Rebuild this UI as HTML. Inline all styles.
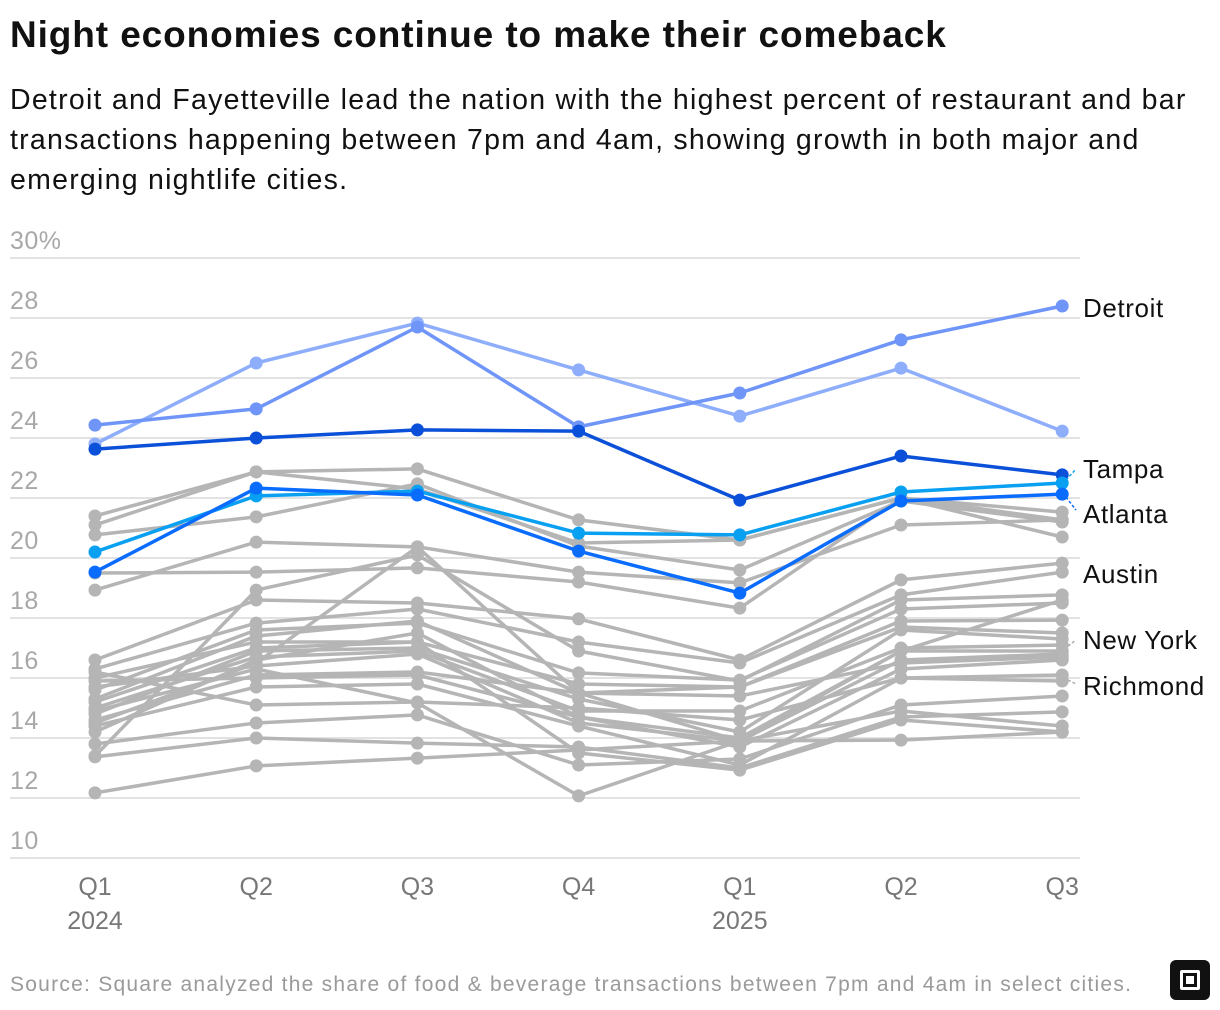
<!DOCTYPE html>
<html><head><meta charset="utf-8">
<style>
body{margin:0;background:#fff;width:1220px;height:1010px;overflow:hidden;font-family:"Liberation Sans",sans-serif;}
h1{position:absolute;left:10px;top:14px;margin:0;font-size:37px;font-weight:bold;letter-spacing:0.9px;color:#111;white-space:nowrap;}
.sub{position:absolute;left:10px;top:80px;width:1210px;font-size:28.5px;line-height:40px;letter-spacing:1.25px;color:#111;margin:0;}
.src{position:absolute;left:10px;top:973px;font-size:21px;letter-spacing:1.25px;color:#9a9a9a;white-space:nowrap;}
svg{position:absolute;left:0;top:0;}
</style></head><body>
<h1>Night economies continue to make their comeback</h1>
<p class="sub">Detroit and Fayetteville lead the nation with the highest percent of restaurant and bar transactions happening between 7pm and 4am, showing growth in both major and emerging nightlife cities.</p>
<svg id="chart" width="1220" height="1010"></svg>
<div class="src">Source: Square analyzed the share of food &amp; beverage transactions between 7pm and 4am in select cities.</div>
<div style="position:absolute;left:1170px;top:960px;width:40px;height:40px;background:#111;border-radius:6px;">
<div style="position:absolute;left:10px;top:10px;width:14px;height:14px;border:3px solid #fff;border-radius:2px;"></div>
<div style="position:absolute;left:16px;top:16px;width:8px;height:8px;background:#fff;"></div></div>
<script>
const quarters=["Q1","Q2","Q3","Q4","Q1","Q2","Q3"];
const years=["2024","","","","2025","",""];
const yTicks=[10,12,14,16,18,20,22,24,26,28,30];
const detroit=[24.43,24.97,27.7,24.37,25.5,27.27,28.4];
const fayetteville=[23.8,26.5,27.83,26.27,24.73,26.33,24.23];
const darkBlue=[23.63,24.0,24.27,24.23,21.93,23.4,22.77];
const tampa=[20.2,22.07,22.23,20.83,20.77,22.2,22.5];
const atlanta=[19.53,22.33,22.1,20.23,18.83,21.9,22.13];
const grayLines=[
[21.4,22.87,22.97,21.27,20.6,22.0,21.27],
[21.1,22.87,22.3,20.5,20.6,22.0,21.53],
[20.77,21.37,22.47,20.4,19.6,21.9,21.2],
[18.93,20.53,20.37,19.53,19.17,21.1,21.27],
[19.5,19.53,19.67,19.2,18.33,22.0,20.7],
[16.6,18.6,18.5,17.97,16.6,19.27,19.83],
[16.3,17.83,18.3,17.2,16.5,18.77,19.53],
[13.4,18.93,20.1,16.9,15.9,18.6,18.77],
[14.5,16.5,20.37,15.5,13.9,16.9,18.6],
[15.6,17.6,17.83,16.17,15.93,18.3,18.5],
[15.3,17.4,17.9,15.5,15.7,17.9,17.93],
[16.0,17.2,17.2,15.8,15.7,17.7,17.5],
[14.8,16.9,17.0,15.3,14.2,17.6,17.3],
[15.0,16.7,16.9,14.9,14.9,17.0,17.1],
[14.2,16.6,17.5,14.7,14.0,16.9,16.9],
[15.7,16.4,16.8,14.5,13.9,16.6,16.8],
[14.6,16.1,16.2,15.5,15.4,16.5,16.7],
[15.9,16.0,16.1,14.7,13.7,16.3,16.6],
[14.4,15.7,15.8,14.4,13.1,16.0,16.1],
[16.2,15.1,15.2,15.0,14.6,16.0,15.9],
[13.8,14.5,14.77,13.1,13.3,15.1,15.4],
[13.37,14.0,13.83,13.7,13.0,14.7,14.87],
[12.17,13.07,13.33,13.6,13.9,13.93,14.2],
[14.9,16.3,15.17,12.07,13.9,14.9,14.4],
[15.2,17.0,17.2,13.5,12.93,14.6,14.2]
];
const svg=document.getElementById('chart');
const NS="http://www.w3.org/2000/svg";
const x0=95,dx=161.2,y0=858,py=30;
const X=i=>x0+i*dx, Y=v=>y0-(v-10)*py;
function mk(t,a){const e=document.createElementNS(NS,t);for(const k in a)e.setAttribute(k,a[k]);svg.appendChild(e);return e;}
yTicks.forEach((t,i)=>{
 const g=mk('line',{x1:10,x2:1080,y1:Y(t),y2:Y(t),stroke:'#e2e2e2','stroke-width':2});
 
 
 const l=mk('text',{x:10,y:Y(t)-9,'font-size':25,fill:'#a8a8a8','letter-spacing':0.5,'font-family':'Liberation Sans, sans-serif'});
 l.textContent=t+(t===30?'%':'');
 
 
});
quarters.forEach((q,i)=>{
 const t=mk('text',{x:X(i),y:895,'font-size':25,fill:'#777','text-anchor':'middle','font-family':'Liberation Sans, sans-serif'});
 t.textContent=q;
 
 
 if(years[i]){const y=mk('text',{x:X(i),y:929,'font-size':25,fill:'#777','text-anchor':'middle','font-family':'Liberation Sans, sans-serif'});y.textContent=years[i];
 
 }
});
function series(vals,color,name){
 const p=mk('polyline',{points:vals.map((v,i)=>X(i)+','+Y(v)).join(' '),fill:'none',stroke:color,'stroke-width':3.5,'stroke-linejoin':'round'});
 
 
 vals.forEach((v,i)=>{const c=mk('circle',{cx:X(i),cy:Y(v),r:6.5,fill:color});
 
 });
}
grayLines.forEach((s,i)=>series(s,'#b5b5b5','city-'+i));
series(fayetteville,'#8eaefc','fayetteville');
series(detroit,'#6f95f8','detroit');
series(darkBlue,'#0b50d8','city-dark-blue');
series(tampa,'#0aa0f2','tampa');
series(atlanta,'#0a6cfd','atlanta');
function leader(x1,y1,x2,y2,c,dash){const l=mk('line',{x1,y1,x2,y2,stroke:c,'stroke-width':1.5,'stroke-dasharray':dash});
 
 }
leader(1066,Y(tampa[6])-3,1076,Y(tampa[6])-14,'#0aa0f2','3,2');
leader(1066,Y(atlanta[6])+3,1076,Y(atlanta[6])+16,'#0a6cfd','3,2');
leader(1068,646,1076,640,'#aaa','3,2');
leader(1068,680,1076,684,'#aaa','3,2');
[["Detroit",308],["Tampa",469],["Atlanta",514],["Austin",574],["New York",640],["Richmond",686]].forEach(([n,y])=>{
 const t=mk('text',{x:1083,y:y+9,'font-size':26,'letter-spacing':0.6,fill:'#111','font-family':'Liberation Sans, sans-serif'});
 t.textContent=n;
 
 
});
</script>
</body></html>
